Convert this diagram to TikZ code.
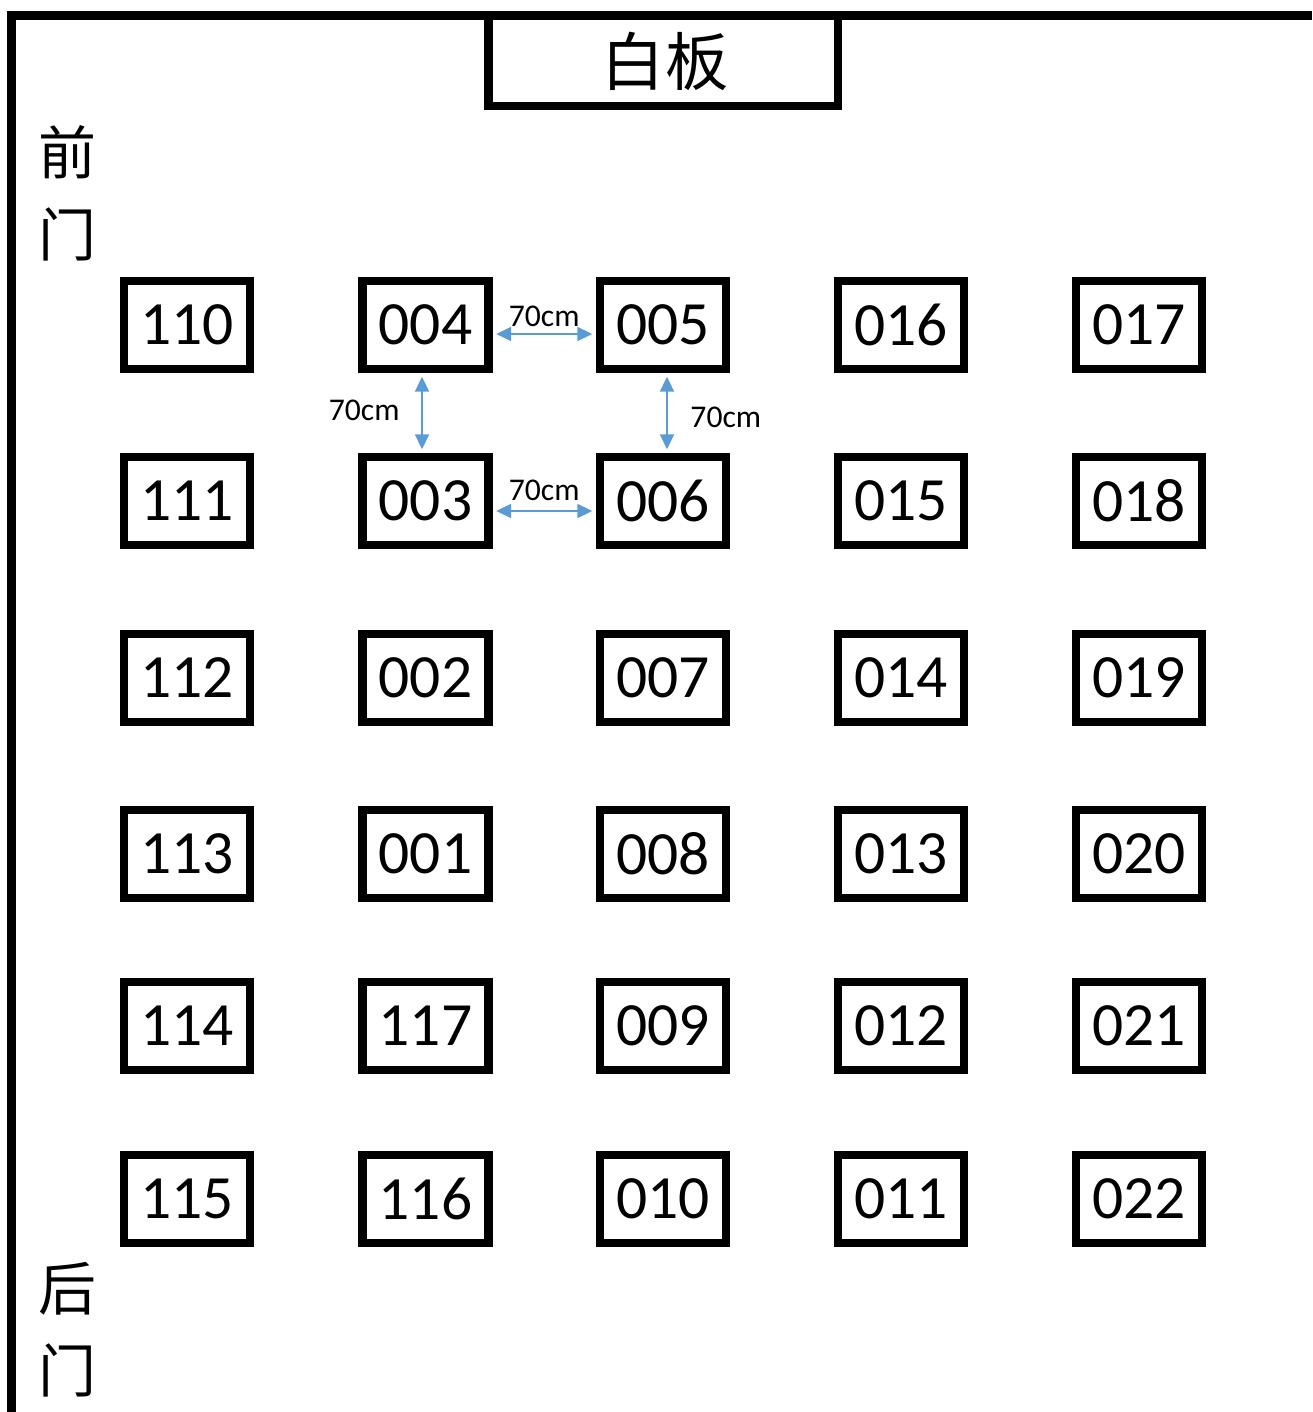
\documentclass[tikz,border=0pt]{standalone}
\usepackage{fontspec}
\setmainfont{Carlito}
\newfontfamily\cjk{Noto Sans CJK SC}
\usetikzlibrary{arrows.meta}
\definecolor{distblue}{RGB}{91,155,213}

\begin{document}
\begin{tikzpicture}[x=0.02cm, y=-0.02cm,
    desk/.style = {draw, line width=4.8pt, minimum width=2.52cm, minimum height=1.76cm,
                   inner sep=0pt, font=\fontsize{35}{35}\selectfont},
    wall/.style = {line width=5.1pt, line join=miter},
    gap/.style = {<->, >={Triangle[length=3mm, width=2.8mm]}, distblue, line width=1.1pt,
                  shorten <=0.07cm, shorten >=0.07cm},
    gaplabel/.style = {inner sep=0pt, text=black, font=\fontsize{18}{18}\selectfont},
    door/.style = {font=\cjk\fontsize{33}{33}\selectfont, align=center}]

    \useasboundingbox (0,0) rectangle (1312,1412);

    % Walls and whiteboard
    \draw[wall] (1312,15.5) -- (11.5,15.5) -- (11.5,1412);
    \draw[wall] (488.5,15.5) -- (488.5,106) -- (838,106) -- (838,15.5);
    \node[font=\cjk\fontsize{36}{36}\selectfont] (board) at (665,61) {白板};

    % Doors
    \node[door] (front) at (67,193) {前\\[0.48cm]门};
    \node[door] (back) at (67,1330) {后\\[0.48cm]门};

    % Desks, row by row
    \node[desk] (d110) at (187,325) {110};
    \node[desk] (d004) at (425.5,325) {004};
    \node[desk] (d005) at (663,325) {005};
    \node[desk] (d016) at (901,325) {016};
    \node[desk] (d017) at (1139,325) {017};

    \node[desk] (d111) at (187,501) {111};
    \node[desk] (d003) at (425.5,501) {003};
    \node[desk] (d006) at (663,501) {006};
    \node[desk] (d015) at (901,501) {015};
    \node[desk] (d018) at (1139,501) {018};

    \node[desk] (d112) at (187,678) {112};
    \node[desk] (d002) at (425.5,678) {002};
    \node[desk] (d007) at (663,678) {007};
    \node[desk] (d014) at (901,678) {014};
    \node[desk] (d019) at (1139,678) {019};

    \node[desk] (d113) at (187,854) {113};
    \node[desk] (d001) at (425.5,854) {001};
    \node[desk] (d008) at (663,854) {008};
    \node[desk] (d013) at (901,854) {013};
    \node[desk] (d020) at (1139,854) {020};

    \node[desk] (d114) at (187,1026) {114};
    \node[desk] (d117) at (425.5,1026) {117};
    \node[desk] (d009) at (663,1026) {009};
    \node[desk] (d012) at (901,1026) {012};
    \node[desk] (d021) at (1139,1026) {021};

    \node[desk] (d115) at (187,1199) {115};
    \node[desk] (d116) at (425.5,1199) {116};
    \node[desk] (d010) at (663,1199) {010};
    \node[desk] (d011) at (901,1199) {011};
    \node[desk] (d022) at (1139,1199) {022};

    % Distances
    \draw[gap] ([yshift=-0.18cm]d004.east) -- ([yshift=-0.18cm]d005.west)
        node[gaplabel, midway, above=0.13cm] {70cm};
    \draw[gap] ([yshift=-0.2cm]d003.east) -- ([yshift=-0.2cm]d006.west)
        node[gaplabel, midway, above=0.19cm] {70cm};
    \draw[gap] ([xshift=-0.07cm]d004.south) -- ([xshift=-0.07cm]d003.north)
        node[gaplabel, midway, left=0.43cm, yshift=0.06cm] {70cm};
    \draw[gap] ([xshift=0.08cm]d005.south) -- ([xshift=0.08cm]d006.north)
        node[gaplabel, midway, right=0.45cm, yshift=-0.08cm] {70cm};

\end{tikzpicture}
\end{document}
